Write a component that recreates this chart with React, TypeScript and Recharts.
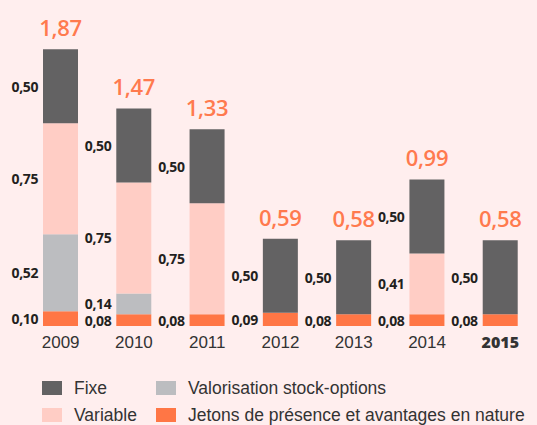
import React from 'react';
import { BarChart, Bar, XAxis, YAxis, LabelList } from 'recharts';

const years = ['2009', '2010', '2011', '2012', '2013', '2014', '2015'];
const fixe = [0.5, 0.5, 0.5, 0.5, 0.5, 0.5, 0.5];
const variable = [0.75, 0.75, 0.75, 0, 0, 0.41, 0];
const stockOptions = [0.52, 0.14, 0, 0, 0, 0, 0];
const jetons = [0.1, 0.08, 0.08, 0.09, 0.08, 0.08, 0.08];

const seriesNames = {
  fixe: 'Fixe',
  variable: 'Variable',
  stockOptions: 'Valorisation stock-options',
  jetons: 'Jetons de présence et avantages en nature',
};
const colors = {
  fixe: '#636263',
  variable: '#FFCDC5',
  stockOptions: '#BCBDC0',
  jetons: '#FF7645',
};
const BG = '#FFEEEE';
const ORANGE = '#FF7A4E';

const data = years.map((y, i) => ({
  year: y,
  fixe: fixe[i],
  variable: variable[i],
  stockOptions: stockOptions[i],
  jetons: jetons[i],
  total: fixe[i] + variable[i] + stockOptions[i] + jetons[i],
}));

const fmt = (v: number) => v.toFixed(2).replace('.', ',');

const SegLabel = (props: any) => {
  const { x, y, height, value } = props;
  if (!value) return null;
  return (
    <text
      x={x - 5}
      y={y + height / 2}
      textAnchor="end"
      dominantBaseline="central"
      fontFamily="'Open Sans', sans-serif"
      fontWeight={700}
      fontSize={14}
      letterSpacing={-0.4}
      fill="#231F20"
    >
      {fmt(value)}
    </text>
  );
};

const TotalLabel = (props: any) => {
  const { x, y, width, index } = props;
  const t = data[index].total;
  return (
    <text
      x={x + width / 2}
      y={y - 13}
      textAnchor="middle"
      fontFamily="'Open Sans', sans-serif"
      fontWeight={600}
      fontSize={22}
      letterSpacing={-0.3}
      fill={ORANGE}
    >
      {fmt(t)}
    </text>
  );
};

const YearTick = (props: any) => {
  const { x, y, payload } = props;
  const bold = payload.value === '2015';
  return (
    <text
      x={x}
      y={y}
      dy={22}
      textAnchor="middle"
      fontFamily={bold ? "'Open Sans', sans-serif" : "'Liberation Sans', Arial, sans-serif"}
      fontWeight={bold ? 800 : 400}
      fontSize={bold ? 16 : 17}
      fill="#333333"
    >
      {payload.value}
    </text>
  );
};

const legendItems: { key: keyof typeof colors; left: number; top: number }[] = [
  { key: 'fixe', left: 42, top: 381 },
  { key: 'stockOptions', left: 156, top: 381 },
  { key: 'variable', left: 42, top: 408 },
  { key: 'jetons', left: 156, top: 408 },
];

export default function App() {
  return (
    <div
      style={{
        position: 'absolute',
        left: 0,
        top: 0,
        width: 537,
        height: 425,
        background: BG,
        overflow: 'hidden',
      }}
    >
      <BarChart
        width={537}
        height={425}
        data={data}
        margin={{ top: 30, right: 0, left: 24, bottom: 69 }}
        barSize={35}
      >
        <XAxis
          dataKey="year"
          axisLine={false}
          tickLine={false}
          tickSize={0}
          tickMargin={0}
          height={30}
          interval={0}
          tick={<YearTick />}
        />
        <YAxis hide domain={[0, 2]} />
        <Bar dataKey="jetons" stackId="a" fill={colors.jetons} isAnimationActive={false}>
          <LabelList dataKey="jetons" content={<SegLabel />} />
        </Bar>
        <Bar dataKey="stockOptions" stackId="a" fill={colors.stockOptions} isAnimationActive={false}>
          <LabelList dataKey="stockOptions" content={<SegLabel />} />
        </Bar>
        <Bar dataKey="variable" stackId="a" fill={colors.variable} isAnimationActive={false}>
          <LabelList dataKey="variable" content={<SegLabel />} />
        </Bar>
        <Bar dataKey="fixe" stackId="a" fill={colors.fixe} isAnimationActive={false}>
          <LabelList dataKey="fixe" content={<SegLabel />} />
          <LabelList dataKey="total" content={<TotalLabel />} />
        </Bar>
      </BarChart>
      {legendItems.map((it) => (
        <div
          key={it.key}
          style={{
            position: 'absolute',
            left: it.left,
            top: it.top,
            display: 'flex',
            alignItems: 'center',
            height: 14,
            whiteSpace: 'nowrap',
          }}
        >
          <div style={{ width: 20, height: 14, background: colors[it.key], marginRight: 12 }} />
          <span
            style={{
              fontFamily: "'Liberation Sans', Arial, sans-serif",
              fontSize: 17.5,
              color: '#333333',
              lineHeight: '14px',
            }}
          >
            {seriesNames[it.key]}
          </span>
        </div>
      ))}
    </div>
  );
}
